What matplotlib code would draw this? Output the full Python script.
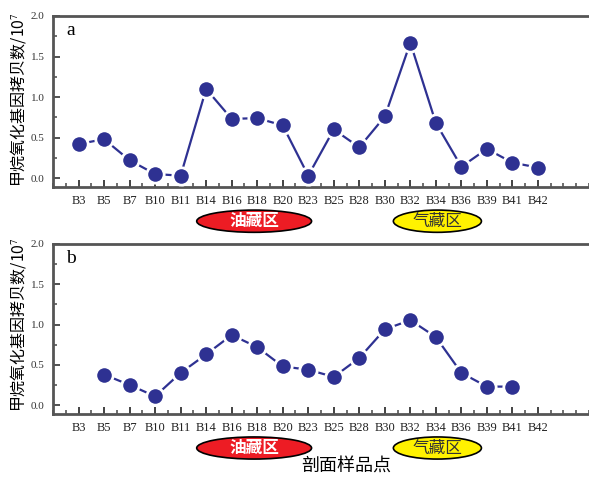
import numpy as np
import matplotlib.pyplot as plt
from matplotlib.patches import Ellipse
from matplotlib.ticker import MultipleLocator
import matplotlib.transforms as mtransforms

plt.rcParams['font.family'] = ['Liberation Serif', 'Noto Sans CJK SC', 'DejaVu Sans']
plt.rcParams['mathtext.fontset'] = 'stix'

samples = ['B3', 'B5', 'B7', 'B10', 'B11', 'B14', 'B16', 'B18', 'B20', 'B23',
           'B25', 'B28', 'B30', 'B32', 'B34', 'B36', 'B39', 'B41', 'B42']
vals_a = [0.42, 0.48, 0.22, 0.05, 0.03, 1.10, 0.73, 0.74, 0.65, 0.03,
          0.60, 0.38, 0.76, 1.67, 0.68, 0.14, 0.36, 0.19, 0.13]
vals_b = [np.nan, 0.38, 0.25, 0.11, 0.40, 0.63, 0.87, 0.72, 0.48, 0.44,
          0.35, 0.585, 0.94, 1.055, 0.845, 0.40, 0.23, 0.23, np.nan]
panel_labels = ['a', 'b']
zones = ['油藏区', '气藏区']
ylab = '甲烷氧化基因拷贝数/10$^7$'

navy = '#2E3192'
spine_c = '#555555'

fig = plt.figure(figsize=(5.89, 4.79), dpi=100)
ax1 = fig.add_axes([0.090, 0.6096, 0.910, 0.357])
ax2 = fig.add_axes([0.090, 0.1357, 0.910, 0.355])

x = np.arange(len(samples))
for ax, vals, lab in zip([ax1, ax2], [vals_a, vals_b], panel_labels):
    v = np.array(vals)
    ax.plot(x, v, color=navy, lw=1.6, marker='o', ms=12.5, mfc=navy,
            mec='white', mew=2.0, zorder=3, clip_on=False)
    ax.set_xlim(-1, 20)
    ax.set_ylim(-0.11, 2.0)
    ax.spines['right'].set_visible(False)
    for s in ['left', 'top', 'bottom']:
        ax.spines[s].set_color(spine_c)
        ax.spines[s].set_linewidth(2)
    ax.set_xticks(x)
    ax.set_xticklabels(samples, fontsize=9)
    ax.xaxis.set_minor_locator(MultipleLocator(0.5))
    ax.set_yticks([0, 0.5, 1.0, 1.5, 2.0])
    ax.set_yticklabels(['0.0', '0.5', '1.0', '1.5', '2.0'], fontsize=8)
    ax.yaxis.set_minor_locator(MultipleLocator(0.25))
    ax.tick_params(which='both', direction='in', color=spine_c, width=1.2)
    ax.tick_params(which='major', length=5)
    ax.tick_params(which='minor', length=3)
    ax.tick_params(axis='x', pad=6, colors='#222222')
    ax.tick_params(axis='y', pad=6, colors='#333333')
    ax.text(0.025, 0.965, lab, transform=ax.transAxes, fontsize=14,
            va='top', ha='left')

    trans = mtransforms.blended_transform_factory(ax.transData, ax.transAxes)
    e1 = Ellipse((6.88, -0.20), 4.5, 0.13, transform=trans, clip_on=False,
                 facecolor='#ED1C24', edgecolor='black', lw=1.2)
    e2 = Ellipse((14.06, -0.20), 3.45, 0.13, transform=trans, clip_on=False,
                 facecolor='#FFF200', edgecolor='black', lw=1.2)
    ax.add_patch(e1)
    ax.add_patch(e2)
    ax.text(6.88, -0.20, zones[0], transform=trans, ha='center', va='center',
            fontsize=12, color='white', fontweight='bold',
            family=['Noto Sans CJK SC'])
    ax.text(14.06, -0.20, zones[1], transform=trans, ha='center', va='center',
            fontsize=12, color='#333333', family=['Noto Sans CJK SC'])

fig.text(18 / 589, 1 - 100 / 479, ylab, rotation=90, ha='center', va='center',
         fontsize=11.5, family=['Noto Sans CJK SC', 'DejaVu Sans'])
fig.text(18 / 589, 1 - 325 / 479, ylab, rotation=90, ha='center', va='center',
         fontsize=11.5, family=['Noto Sans CJK SC', 'DejaVu Sans'])
fig.text(0.587, 0.025, '剖面样品点', fontsize=13, ha='center', va='center',
         family=['Noto Sans CJK SC'])

fig.savefig('out.png', dpi=100)
